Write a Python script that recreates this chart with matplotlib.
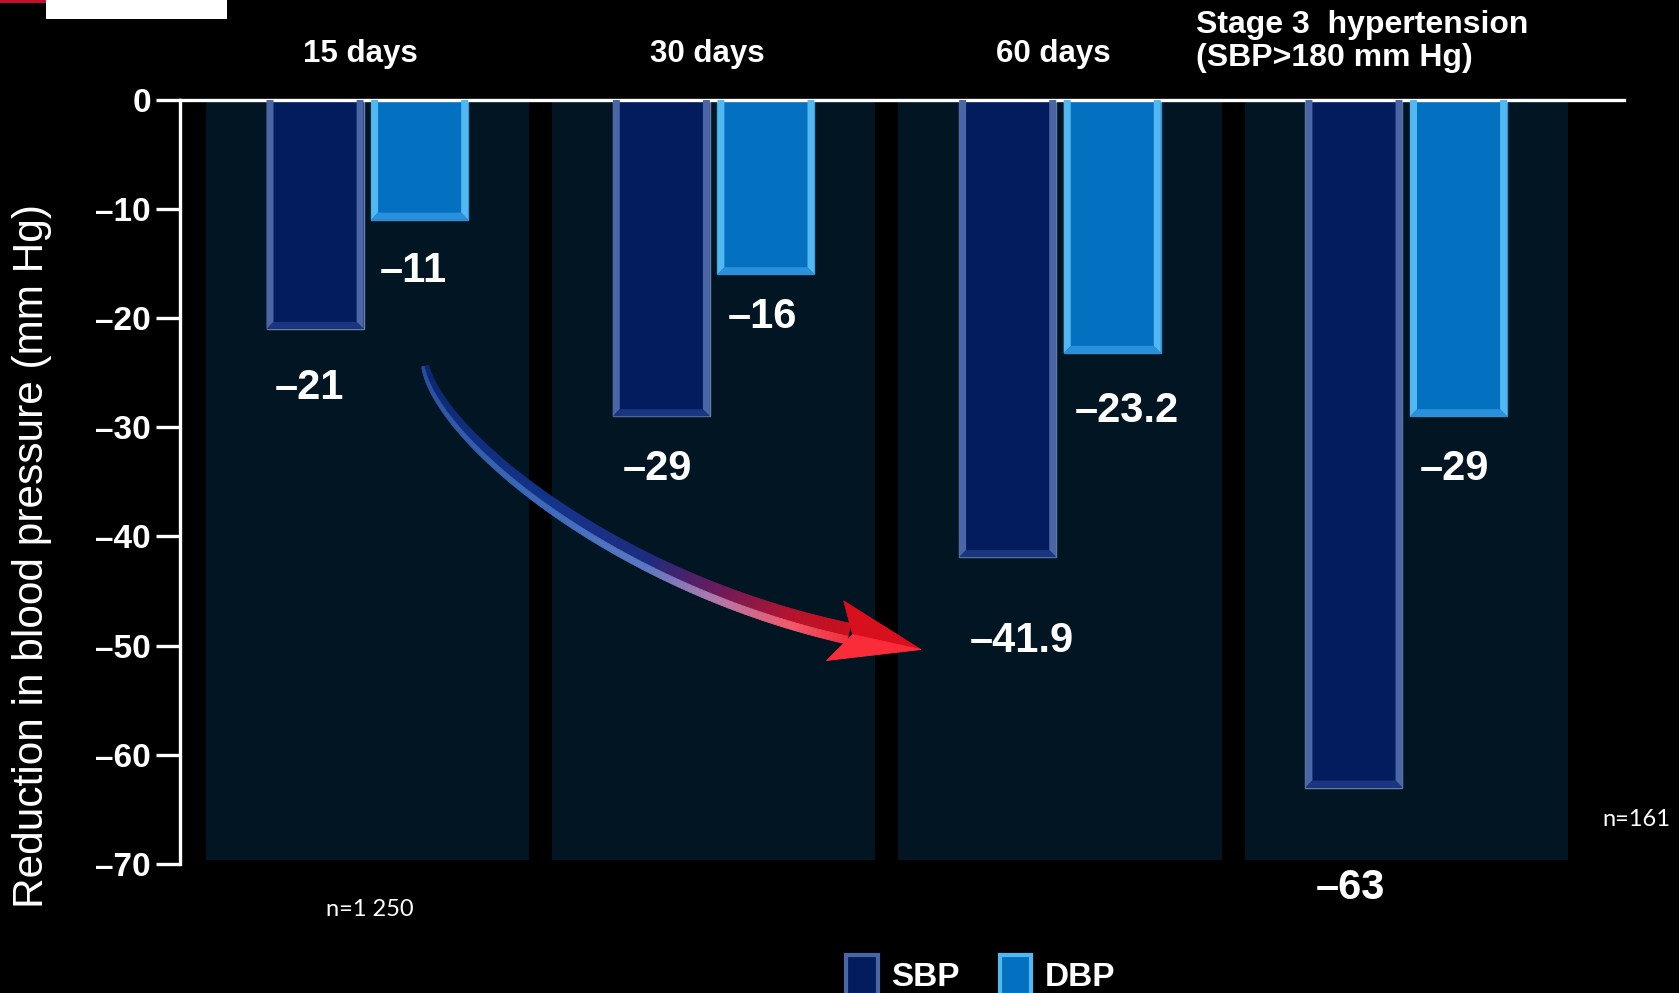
#!/usr/bin/env python3
# Blood pressure reduction by treatment duration, SBP vs DBP bars on a dark slide background

import numpy as np
import matplotlib
matplotlib.use('Agg')
import matplotlib.pyplot as plt
from matplotlib.patches import Polygon, Rectangle, Patch
from matplotlib.colors import LinearSegmentedColormap

## data
groups = ['15 days', '30 days', '60 days', 'Stage 3  hypertension\n(SBP>180 mm Hg)']
sbp = [-21, -29, -41.9, -63]
dbp = [-11, -16, -23.2, -29]
yticks = [0, -10, -20, -30, -40, -50, -60, -70]
n_notes = ['n=1 250', 'n=161']

## label placement (offset from bar centre in x, drop below bar end in y)
sbp_lab_dx = [-0.015, -0.01, 0.04, -0.01]
sbp_lab_drop = [5.4, 4.8, 7.7, 9.2]
dbp_lab_dx = [-0.017, -0.01, 0.043, -0.012]
dbp_lab_drop = [4.7, 3.9, 5.3, 4.8]

plt.rcParams['font.family'] = ['Liberation Sans', 'DejaVu Sans']

bg = '#000000'
panel_col = '#011622'
# (face, side bevel, bottom bevel, outline)
sbp_style = ('#021c5e', '#4a66a6', '#1a3680', '#6a7eaa')
dbp_style = ('#0470c0', '#52b8f2', '#2a90dc', '#3c8cc8')

fig = plt.figure(figsize=(16.79, 9.93), dpi=100, facecolor=bg)
ax = fig.add_axes([0.1072, 0.0, 0.8601, 0.8997])
ax.set_facecolor(bg)
ax.set_xlim(-0.541, 3.629)
ax.set_ylim(-81.8, 0)

x = np.arange(len(groups))
off, bw = 0.151, 0.28
bx, by = 0.02, 0.65

# panels behind each group
ax.bar(x, -69.6, width=0.934, bottom=0, color=panel_col, zorder=0)

def bevel_bars(xs, vals, style):
    face, side, bottom, edge = style
    ax.bar(xs, vals, width=bw, color=face, edgecolor=edge, linewidth=1.0, zorder=2)
    for xc, v in zip(xs, vals):
        xl, xr = xc - bw / 2, xc + bw / 2
        for pts, c in [([(xl, 0), (xl + bx, 0), (xl + bx, v + by), (xl, v)], side),
                       ([(xr, 0), (xr - bx, 0), (xr - bx, v + by), (xr, v)], side),
                       ([(xl, v), (xr, v), (xr - bx, v + by), (xl + bx, v + by)], bottom)]:
            ax.add_patch(Polygon(pts, closed=True, facecolor=c, edgecolor='none', zorder=3))

bevel_bars(x - off, sbp, sbp_style)
bevel_bars(x + off, dbp, dbp_style)

def fmt(v):
    return ('%g' % v).replace('-', '\u2013')

for i in range(len(groups)):
    ax.text(x[i] - off + sbp_lab_dx[i], sbp[i] - sbp_lab_drop[i], fmt(sbp[i]),
            color='white', fontsize=30, fontweight='bold', ha='center', va='center',
            zorder=6, clip_on=False)
    ax.text(x[i] + off + dbp_lab_dx[i], dbp[i] - dbp_lab_drop[i], fmt(dbp[i]),
            color='white', fontsize=30, fontweight='bold', ha='center', va='center',
            zorder=6, clip_on=False)

# group headers
for i, g in enumerate(groups[:3]):
    ax.text(x[i] - 0.019, 4.2, g, color='white', fontsize=22.5, fontweight='bold',
            ha='center', va='center', clip_on=False)
ax.text(2.393, 5.3, groups[3], color='white', fontsize=23, fontweight='bold',
        ha='left', va='center', linespacing=1.15, clip_on=False)

ax.text(0.006, -74.2, n_notes[0], color='white', fontsize=17, family=['Lato', 'DejaVu Sans'],
        ha='center', va='center')
ax.text(3.567, -65.9, n_notes[1], color='white', fontsize=17, family=['Lato', 'DejaVu Sans'],
        ha='left', va='center', clip_on=False)

# axes styling
for s in ['right', 'bottom']:
    ax.spines[s].set_visible(False)
ax.spines['left'].set_bounds(-70, 0)
ax.spines['left'].set_color('white')
ax.spines['left'].set_linewidth(2.4)
ax.spines['top'].set_color('white')
ax.spines['top'].set_linewidth(2.4)
ax.set_xticks([])
ax.set_yticks(yticks)
ax.set_yticklabels([fmt(t) for t in yticks])
ax.tick_params(axis='y', colors='white', direction='out', length=17, width=2.4, pad=4,
               labelsize=24)
for lab in ax.get_yticklabels():
    lab.set_fontweight('bold')

fig.text(0.019, 0.44, 'Reduction in blood pressure (mm Hg)', color='white', fontsize=30.5,
         rotation=90, ha='center', va='center')

## curved gradient arrow from the 15-day SBP label to the 60-day one
P = np.array([[0.167, -24.4], [0.21, -31.0], [0.72, -44.3], [1.39, -48.9]])
Pp = ax.transData.transform(P)
inv = ax.transData.inverted()
t = np.linspace(0, 1, 160)
B = ((1 - t) ** 3)[:, None] * Pp[0] + (3 * (1 - t) ** 2 * t)[:, None] * Pp[1] \
    + (3 * (1 - t) * t ** 2)[:, None] * Pp[2] + (t ** 3)[:, None] * Pp[3]
D = np.gradient(B, axis=0)
D /= np.linalg.norm(D, axis=1)[:, None]
N = np.stack([-D[:, 1], D[:, 0]], axis=1)
hw = 3.5 + 7.0 * t ** 0.8

dark = LinearSegmentedColormap.from_list(
    'dk', [(0, '#0a2870'), (0.5, '#15348a'), (0.68, '#1e2c80'), (0.8, '#6a1c5c'),
           (0.92, '#b8142c'), (1, '#c8101e')])
light = LinearSegmentedColormap.from_list(
    'lt', [(0, '#2a4c9c'), (0.5, '#3e6cbc'), (0.68, '#5a78c4'), (0.8, '#b07aae'),
           (0.92, '#f25a6c'), (1, '#f2303e')])

up = B + N * hw[:, None]
mid = B - N * (0.25 * hw)[:, None]
lo = B - N * hw[:, None]
for i in range(len(t) - 1):
    tm = 0.5 * (t[i] + t[i + 1])
    for a, b, cmap in [(up, mid, dark), (mid, lo, light)]:
        quad = np.array([a[i], a[i + 1], b[i + 1], b[i]])
        c = cmap(tm)
        ax.add_patch(Polygon(inv.transform(quad), closed=True, facecolor=c, edgecolor=c,
                             linewidth=0.6, zorder=7, clip_on=False))

E, d, n = B[-1], D[-1], N[-1]
tip = E + d * 74
notch = E + d * 4
b_up = E - d * 12 + n * 31
b_lo = E - d * 16 - n * 31
ax.add_patch(Polygon(inv.transform(np.array([tip, b_up, notch])), closed=True,
                     facecolor='#d8101e', edgecolor='#d8101e', linewidth=0.6, zorder=8))
ax.add_patch(Polygon(inv.transform(np.array([tip, notch, b_lo])), closed=True,
                     facecolor='#fa2c3a', edgecolor='#fa2c3a', linewidth=0.6, zorder=8))

## legend
handles = [Patch(facecolor=sbp_style[0], edgecolor=sbp_style[1], linewidth=3, label='SBP'),
           Patch(facecolor=dbp_style[0], edgecolor=dbp_style[1], linewidth=3, label='DBP')]
leg = fig.legend(handles=handles, loc='center', bbox_to_anchor=(0.584, 0.018), ncol=2,
                 frameon=False, prop={'size': 24, 'weight': 'bold'}, handlelength=0.95,
                 handleheight=1.5, handletextpad=0.4, columnspacing=1.2, borderaxespad=0)
for txt in leg.get_texts():
    txt.set_color('white')

## slide header marks in the corner
fig.patches.append(Rectangle((46 / 1679, 1 - 19 / 993), 181 / 1679, 19 / 993,
                             transform=fig.transFigure, facecolor='white', edgecolor='none'))
fig.patches.append(Rectangle((0, 1 - 3 / 993), 46 / 1679, 3 / 993,
                             transform=fig.transFigure, facecolor='#c0102a', edgecolor='none'))

fig.savefig('out.png', dpi=100, facecolor=bg)
